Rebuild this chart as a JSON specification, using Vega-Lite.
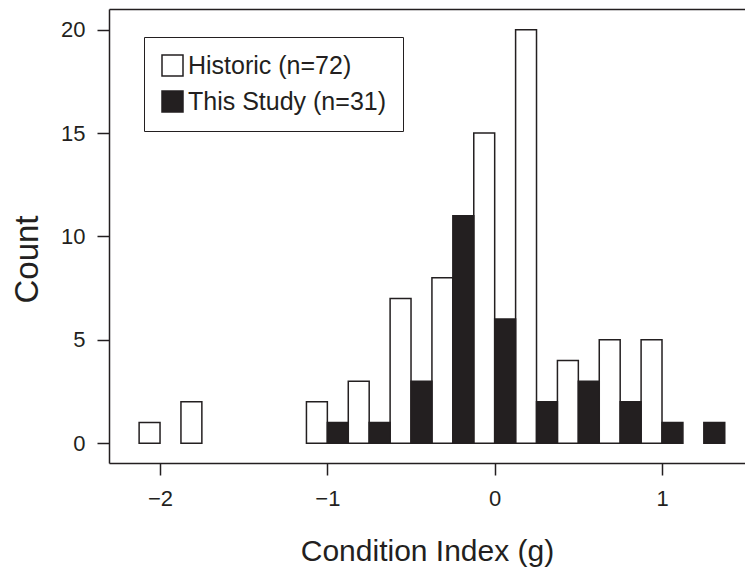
{
  "$schema": "https://vega.github.io/schema/vega-lite/v6.json",
  "width": 636,
  "height": 454,
  "autosize": {"type": "none"},
  "padding": {"left": 109, "top": 9, "right": 0, "bottom": 107},
  "background": "white",
  "config": {
    "view": {"stroke": null},
    "font": "Liberation Sans",
    "axis": {
      "domainColor": "#231f20",
      "domainWidth": 1.5,
      "tickColor": "#231f20",
      "tickWidth": 1.5,
      "labelColor": "#231f20",
      "titleColor": "#231f20",
      "labelFont": "Liberation Sans",
      "titleFont": "Liberation Sans",
      "titleFontWeight": "normal",
      "grid": false
    }
  },
  "data": {
    "values": [
      {"x0": -2.125, "x1": -2.0, "series": "Historic (n=72)", "count": 1},
      {"x0": -1.875, "x1": -1.75, "series": "Historic (n=72)", "count": 2},
      {"x0": -1.125, "x1": -1.0, "series": "Historic (n=72)", "count": 2},
      {"x0": -0.875, "x1": -0.75, "series": "Historic (n=72)", "count": 3},
      {"x0": -0.625, "x1": -0.5, "series": "Historic (n=72)", "count": 7},
      {"x0": -0.375, "x1": -0.25, "series": "Historic (n=72)", "count": 8},
      {"x0": -0.125, "x1": 0.0, "series": "Historic (n=72)", "count": 15},
      {"x0": 0.125, "x1": 0.25, "series": "Historic (n=72)", "count": 20},
      {"x0": 0.375, "x1": 0.5, "series": "Historic (n=72)", "count": 4},
      {"x0": 0.625, "x1": 0.75, "series": "Historic (n=72)", "count": 5},
      {"x0": 0.875, "x1": 1.0, "series": "Historic (n=72)", "count": 5},
      {"x0": -1.0, "x1": -0.875, "series": "This Study (n=31)", "count": 1},
      {"x0": -0.75, "x1": -0.625, "series": "This Study (n=31)", "count": 1},
      {"x0": -0.5, "x1": -0.375, "series": "This Study (n=31)", "count": 3},
      {"x0": -0.25, "x1": -0.125, "series": "This Study (n=31)", "count": 11},
      {"x0": 0.0, "x1": 0.125, "series": "This Study (n=31)", "count": 6},
      {"x0": 0.25, "x1": 0.375, "series": "This Study (n=31)", "count": 2},
      {"x0": 0.5, "x1": 0.625, "series": "This Study (n=31)", "count": 3},
      {"x0": 0.75, "x1": 0.875, "series": "This Study (n=31)", "count": 2},
      {"x0": 1.0, "x1": 1.125, "series": "This Study (n=31)", "count": 1},
      {"x0": 1.25, "x1": 1.375, "series": "This Study (n=31)", "count": 1}
    ]
  },
  "layer": [
    {
      "mark": {"type": "bar", "stroke": "#231f20", "strokeWidth": 1.5},
      "encoding": {
        "x": {
          "field": "x0",
          "type": "quantitative",
          "scale": {"domain": [-2.305, 1.496], "nice": false, "zero": false},
          "axis": {
            "orient": "bottom",
            "values": [-2, -1, 0, 1],
            "format": "d",
            "tickSize": 12,
            "labelFontSize": 22,
            "labelPadding": 13,
            "title": "Condition Index (g)",
            "titleFontSize": 30,
            "titleBaseline": "alphabetic",
            "titleY": 97
          }
        },
        "x2": {"field": "x1"},
        "y": {
          "field": "count",
          "type": "quantitative",
          "scale": {"domain": [-0.96, 21.0], "nice": false, "zero": false},
          "axis": {
            "values": [0, 5, 10, 15, 20],
            "tickSize": 12,
            "labelFontSize": 22,
            "labelPadding": 12,
            "title": "Count",
            "titleFontSize": 33,
            "titleBaseline": "alphabetic",
            "titleX": -72,
            "titleY": 250
          }
        },
        "y2": {"datum": 0},
        "fill": {
          "field": "series",
          "type": "nominal",
          "scale": {
            "domain": ["Historic (n=72)", "This Study (n=31)"],
            "range": ["#ffffff", "#231f20"]
          },
          "legend": {
            "title": null,
            "orient": "none",
            "legendX": 35,
            "legendY": 28,
            "direction": "vertical",
            "strokeColor": "#231f20",
            "fillColor": "#ffffff",
            "padding": 16,
            "cornerRadius": 0,
            "symbolType": "square",
            "symbolSize": 441,
            "symbolStrokeColor": "#231f20",
            "symbolStrokeWidth": 1.5,
            "symbolOpacity": 1,
            "labelFontSize": 25,
            "labelLimit": 400,
            "labelColor": "#231f20",
            "labelOffset": 3,
            "rowPadding": 9
          }
        }
      }
    },
    {
      "mark": {"type": "rule", "opacity": 0},
      "encoding": {
        "x": {
          "datum": 0,
          "type": "quantitative",
          "axis": {
            "orient": "top",
            "labels": false,
            "ticks": false,
            "title": null,
            "domain": true
          }
        }
      }
    }
  ],
  "resolve": {"axis": {"x": "independent"}}
}
